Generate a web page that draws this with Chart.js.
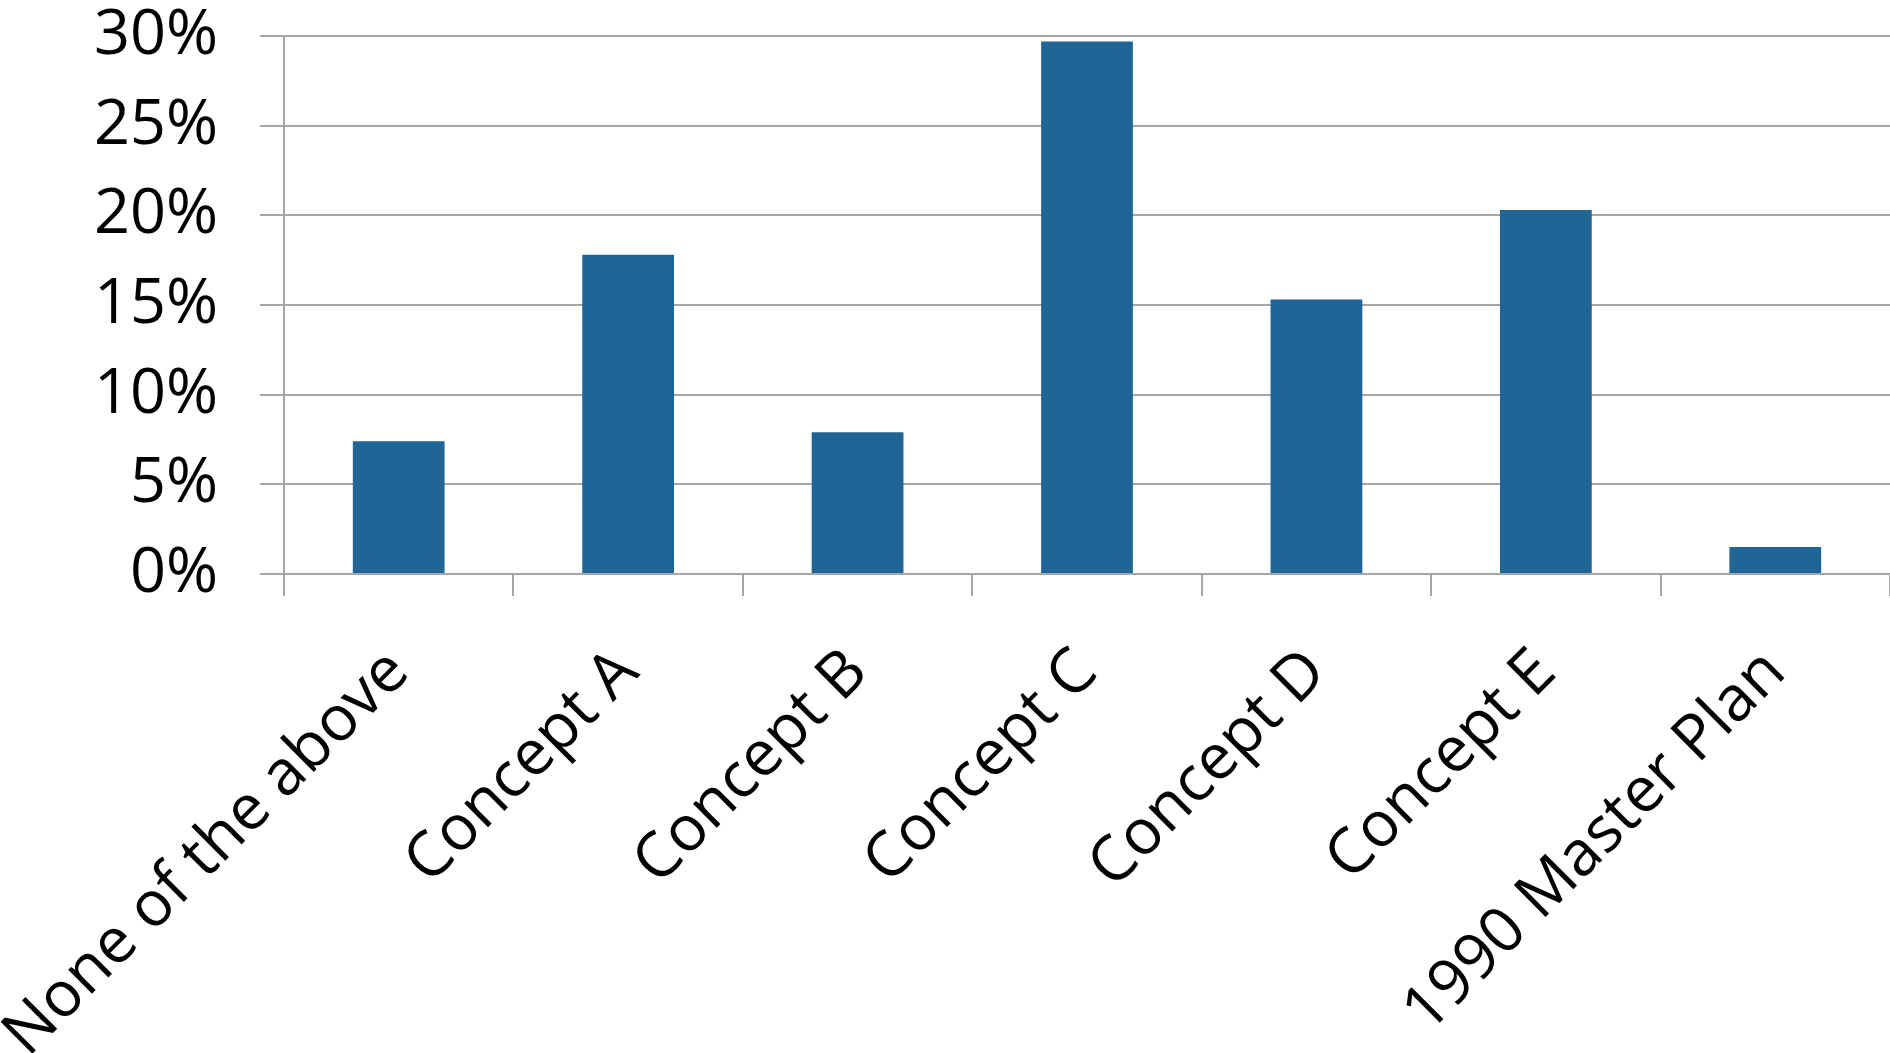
<!DOCTYPE html>
<html>
<head>
<meta charset="utf-8">
<script src="https://cdn.jsdelivr.net/npm/chart.js@4"></script>
<style>
  html, body { margin: 0; padding: 0; background: #fff; }
  #wrap { width: 1890px; height: 1053px; position: relative; }
</style>
</head>
<body>
<div id="wrap"><canvas id="chart"></canvas></div>
<script>
const categories = ['None of the above', 'Concept A', 'Concept B', 'Concept C', 'Concept D', 'Concept E', '1990 Master Plan'];
const shares = [7.4, 17.8, 7.9, 29.7, 15.3, 20.3, 1.5];
const yTicks = [0, 5, 10, 15, 20, 25, 30];

Chart.defaults.font.family = "'Open Sans', sans-serif";
Chart.defaults.color = '#000';

const gridGrey = '#a6a6a6';

new Chart(document.getElementById('chart').getContext('2d'), {
    type: 'bar',
    data: {
        labels: categories,
        datasets: [{
            data: shares,
            backgroundColor: '#1f6595',
            borderWidth: 0,
            categoryPercentage: 1,
            barPercentage: 0.4
        }]
    },
    options: {
        responsive: true,
        maintainAspectRatio: false,
        animation: false,
        devicePixelRatio: 1,
        plugins: {
            legend: { display: false },
            tooltip: { enabled: false }
        },
        scales: {
            x: {
                // labels run off the bottom/left edge like the original
                afterFit: axis => {
                    axis.height = 479;
                    axis.paddingLeft = 0;
                    axis.paddingRight = 0;
                },
                grid: {
                    offset: true,
                    drawOnChartArea: false,
                    color: gridGrey,
                    lineWidth: 2,
                    tickLength: 22
                },
                border: { color: gridGrey, width: 2 },
                ticks: {
                    font: { size: 63 },
                    maxRotation: 45,
                    minRotation: 45,
                    padding: 39,
                    autoSkip: false
                }
            },
            y: {
                min: 0,
                max: 30,
                afterBuildTicks: axis => {
                    axis.ticks = yTicks.map(v => ({ value: v }));
                },
                afterFit: axis => {
                    axis.width = 284;
                    axis.paddingTop = 36;
                    axis.paddingBottom = 0;
                },
                grid: {
                    color: gridGrey,
                    lineWidth: 2,
                    tickLength: 24
                },
                border: { color: gridGrey, width: 2 },
                ticks: {
                    font: { size: 63 },
                    padding: 42,
                    autoSkip: false,
                    callback: v => v + '%'
                }
            }
        }
    }
});
</script>
</body>
</html>
